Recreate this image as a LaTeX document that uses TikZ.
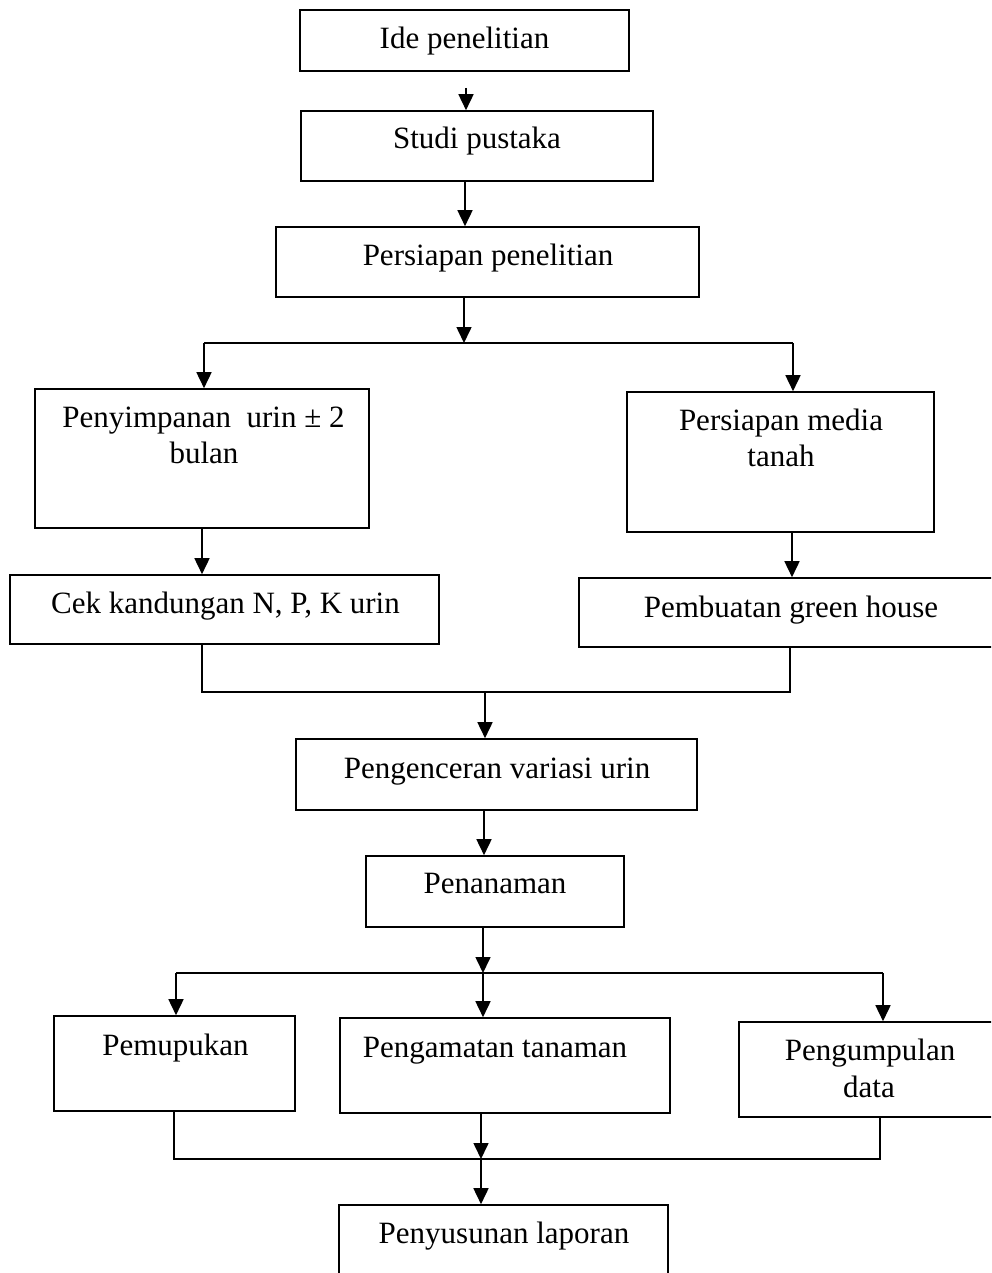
\documentclass[tikz,border=0pt]{standalone}
\usepackage{fontspec}
\setmainfont{Liberation Serif}
\usetikzlibrary{arrows.meta,fit}
\begin{document}
\begin{tikzpicture}[x=0.5pt,y=-0.5pt,
  box/.style={draw,line width=0.8pt,inner sep=0pt,rectangle},
  txt/.style={font=\fontsize{15.5}{18}\selectfont,inner sep=0pt,anchor=base},
  conn/.style={line width=0.8pt},
  arr/.style={conn,-{Triangle[width=7.5pt,length=8pt]}}]
\useasboundingbox (0,0) rectangle (991,1273);
\fill[white] (0,0) rectangle (991,1273);
\clip (0,0) rectangle (991,1273);
% boxes
\node[box,fit={(300,10)(629,71)}] (ide) {};
\node[txt] (ide-t) at (464.5,49) {Ide penelitian};
\node[box,fit={(301,111)(653,181)}] (studi) {};
\node[txt] (studi-t) at (477,149) {Studi pustaka};
\node[box,fit={(276,227)(699,297)}] (siap) {};
\node[txt] (siap-t) at (488,265) {Persiapan penelitian};
\node[box,fit={(35,389)(369,528)}] (simpan) {};
\node[txt] (simpan-t) at (203.5,427) {Penyimpanan\ \ urin ± 2};
\node[txt] (simpan-t2) at (204,463) {bulan};
\node[box,fit={(627,392)(934,532)}] (media) {};
\node[txt] (media-t) at (781,430) {Persiapan media};
\node[txt] (media-t2) at (781,466) {tanah};
\node[box,fit={(10,575)(439,644)}] (cek) {};
\node[txt] (cek-t) at (225.5,613) {Cek kandungan N, P, K urin};
\node[box,fit={(579,578)(1010,647)}] (buat) {};
\node[txt] (buat-t) at (791,617) {Pembuatan green house};
\node[box,fit={(296,739)(697,810)}] (encer) {};
\node[txt] (encer-t) at (497,778) {Pengenceran variasi urin};
\node[box,fit={(366,856)(624,927)}] (tanam) {};
\node[txt] (tanam-t) at (495,893) {Penanaman};
\node[box,fit={(54,1016)(295,1111)}] (pupuk) {};
\node[txt] (pupuk-t) at (175.5,1055) {Pemupukan};
\node[box,fit={(340,1018)(670,1113)}] (amat) {};
\node[txt] (amat-t) at (495,1057) {Pengamatan tanaman};
\node[box,fit={(739,1022)(1010,1117)}] (kumpul) {};
\node[txt] (kumpul-t) at (870,1060) {Pengumpulan};
\node[txt] (kumpul-t2) at (869,1097) {data};
\node[box,fit={(339,1205)(668,1300)}] (susun) {};
\node[txt] (susun-t) at (504,1243) {Penyusunan laporan};
% connectors
\coordinate (a0) at (466,88);
\draw[arr] (a0) -- (a0 |- studi.north);
\coordinate (a1) at (465,181);
\draw[arr] (studi.south -| a1) -- (siap.north -| a1);
\coordinate (j1) at (464,343);
\coordinate (j1l) at (204,343);
\coordinate (j1r) at (793,343);
\draw[arr] (siap.south -| j1) -- (j1);
\draw[conn] (j1l) -- (j1r);
\draw[arr] (j1l) -- (j1l |- simpan.north);
\draw[arr] (j1r) -- (j1r |- media.north);
\draw[arr] (simpan.south) -- (simpan.south |- cek.north);
\coordinate (a5) at (792,532);
\draw[arr] (media.south -| a5) -- (buat.north -| a5);
\coordinate (k1) at (202,692);
\coordinate (k2) at (790,692);
\coordinate (k3) at (485,692);
\draw[conn] (cek.south -| k1) -- (k1) -- (k2) -- (buat.south -| k2);
\draw[arr] (k3) -- (k3 |- encer.north);
\coordinate (a7) at (484,810);
\draw[arr] (encer.south -| a7) -- (tanam.north -| a7);
\coordinate (j2) at (483,973);
\coordinate (j2l) at (176,973);
\coordinate (j2r) at (883,973);
\draw[arr] (tanam.south -| j2) -- (j2);
\draw[conn] (j2l) -- (j2r);
\draw[arr] (j2l) -- (j2l |- pupuk.north);
\draw[arr] (j2) -- (j2 |- amat.north);
\draw[arr] (j2r) -- (j2r |- kumpul.north);
\coordinate (m1) at (174,1159);
\coordinate (m2) at (880,1159);
\coordinate (m3) at (481,1159);
\draw[conn] (pupuk.south -| m1) -- (m1) -- (m2) -- (kumpul.south -| m2);
\draw[arr] (amat.south -| m3) -- (m3);
\draw[arr] (m3) -- (m3 |- susun.north);
\end{tikzpicture}
\end{document}
